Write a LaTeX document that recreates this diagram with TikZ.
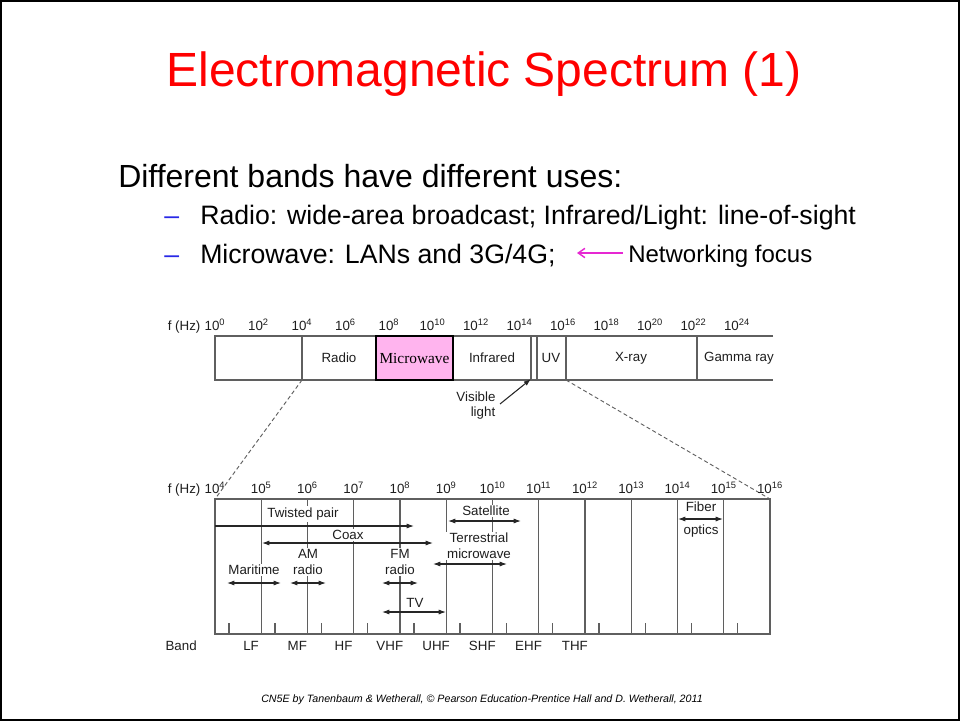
\documentclass[tikz,border=0pt]{standalone}
\usepackage{fontspec}
\setmainfont{Liberation Sans}
\newfontfamily\timesf{Liberation Serif}
\usetikzlibrary{arrows.meta}

\definecolor{titlered}{RGB}{255,0,0}
\definecolor{bulletblue}{RGB}{40,40,230}
\definecolor{focusmag}{RGB}{230,40,210}
\definecolor{mwpink}{RGB}{255,180,238}
\definecolor{linegray}{RGB}{95,95,95}
\definecolor{txtgray}{RGB}{30,30,30}

\begin{document}
\begin{tikzpicture}[x=0.75pt,y=-0.75pt,
  lbl/.style={font=\fontsize{10}{12}\selectfont, text=txtgray, inner sep=1pt},
  wl/.style={lbl, fill=white},
  exl/.style={lbl, anchor=base},
  gl/.style={draw=linegray, line width=0.95pt},
  rng/.style={draw=black!85, line width=0.8pt, {Latex[length=5.5pt,width=3.8pt]}-{Latex[length=5.5pt,width=3.8pt]}},
  rngr/.style={draw=black!85, line width=0.8pt, -{Latex[length=5.5pt,width=3.8pt]}},
  dsh/.style={draw=linegray, dash pattern=on 3pt off 2pt, line width=0.7pt},
  bul/.style={anchor=base west, font=\fontsize{20}{24}\selectfont},
]
\useasboundingbox (0,0) rectangle (960,721);
\draw[black, line width=0.9pt] (1,1) rectangle (959,720);

% ---------- text ----------
\node[anchor=base, font=\fontsize{36}{40}\selectfont, text=titlered, inner sep=0pt] (title) at (484,86) {Electromagnetic Spectrum (1)};
\node[anchor=base west, font=\fontsize{24}{28}\selectfont, inner sep=0pt] (intro) at (118,187) {Different bands have different uses:};
\node[bul, text=bulletblue, inner sep=0pt] (d1) at (164,224) {–};
\node[bul, inner sep=0pt] (b1) at (200,224) {Radio: wide-area broadcast; Infrared/Light: line-of-sight};
\node[bul, text=bulletblue, inner sep=0pt] (d2) at (164,263) {–};
\node[bul, inner sep=0pt] (b2) at (200,263) {Microwave: LANs and 3G/4G;};
\node[anchor=base west, font=\fontsize{18}{22}\selectfont, inner sep=0pt] (nf) at (628,262) {Networking focus};
\coordinate (nfA) at (623,253);
\coordinate (nfB) at (577,253);
\draw[focusmag, line width=1.1pt, -{Straight Barb[length=5pt,width=7pt]}] (nfA) -- (nfB);

\node[anchor=base, font=\itshape\fontsize{8}{10}\selectfont, inner sep=0pt] (foot) at (482,702) {CN5E by Tanenbaum \& Wetherall, © Pearson Education-Prentice Hall and D. Wetherall, 2011};

% ---------- top bar ----------
\node[lbl, anchor=base east] (fhz1) at (202,330) {f (Hz)};
\foreach \e in {0,2,...,24}
  \node[exl] (te\e) at ({215+21.75*\e},330) {10\textsuperscript{\e}};

\coordinate (tTL) at (215,336);
\coordinate (tBL) at (215,380);
\coordinate (tTR) at (773,336);
\coordinate (tBR) at (773,380);
\draw[gl] (tTR) -- (tTL) -- (tBL) -- (tBR);
\foreach \xx in {302,531,537,566,697}
  \draw[gl] (\xx,336) -- (\xx,380);
\coordinate (tb4) at (302,380);
\coordinate (tb16) at (566,380);
\draw[black, line width=0.95pt, fill=mwpink] (376,336) rectangle (453,380);
\node[lbl] (radio) at (339,358) {Radio};
\node[lbl, font=\timesf\fontsize{11.5}{13}\selectfont, text=black] (micro) at (414.5,358) {Microwave};
\node[lbl] (infra) at (492,358) {Infrared};
\node[lbl] (uv) at (551,358) {UV};
\node[lbl] (xray) at (631,358) {X-ray};
\node[lbl] (gamma) at (739,358) {Gamma ray};
\node[lbl] (vis) at (476,397) {Visible};
\node[lbl] (light) at (483,413) {light};
\coordinate (visA) at (500,404);
\coordinate (visB) at (531,379);
\draw[rngr] (visA) -- (visB);

% ---------- lower bar ----------
\coordinate (bTL) at (215,499);
\coordinate (bTR) at (770,499);
\coordinate (bBL) at (215,634);
\coordinate (bBR) at (770,634);
\draw[dsh] (tb4) -- (bTL);
\draw[dsh] (tb16) -- (bTR);
\node[lbl, anchor=base east] (fhz2) at (202,493) {f (Hz)};
\foreach \e in {4,...,16}
  \node[exl] (be\e) at ({215+46.25*(\e-4)},493) {10\textsuperscript{\e}};
\foreach \k in {1,...,11}
  \draw[gl] ({215+46.25*\k},499) -- ({215+46.25*\k},634);
\foreach \k in {0,...,11}
  \draw[gl] ({215+46.25*(\k+0.3)},623) -- ({215+46.25*(\k+0.3)},634);
\draw[gl] (bTL) rectangle (bBR);

\node[lbl, anchor=base west] (band) at (164,650) {Band};
\foreach \b [count=\i from 0] in {LF,MF,HF,VHF,UHF,SHF,EHF,THF}
  \node[exl] (band\b) at ({215+46.25*(\i+0.78)},650) {\b};

% labels (white background over grid lines)
\node[wl] (tp) at (303,514) {Twisted pair};
\node[wl] (coax) at (348,535) {Coax};
\node[wl, align=center] (am) at (308,562) {AM\\radio};
\node[wl] (mar) at (254,570) {Maritime};
\node[wl, align=center] (fm) at (400,562) {FM\\radio};
\node[wl] (tv) at (415,603) {TV};
\node[wl, align=center] (terr) at (479,546) {Terrestrial\\microwave};
\node[wl] (sat) at (486,511) {Satellite};
\node[wl] (fib) at (701,507) {Fiber};
\node[wl] (opt) at (701,531) {optics};

% ranges
\coordinate (tpA) at (215,526);  \coordinate (tpB) at (414,526);
\draw[rngr] (tpA) -- (tpB);
\coordinate (coA) at (262,543);  \coordinate (coB) at (433,543);
\draw[rng] (coA) -- (coB);
\coordinate (maA) at (227,583);  \coordinate (maB) at (281,583);
\draw[rng] (maA) -- (maB);
\coordinate (amA) at (290,583);  \coordinate (amB) at (326,583);
\draw[rng] (amA) -- (amB);
\coordinate (fmA) at (382,583);  \coordinate (fmB) at (418,583);
\draw[rng] (fmA) -- (fmB);
\coordinate (tvA) at (382,612);  \coordinate (tvB) at (446,612);
\draw[rng] (tvA) -- (tvB);
\coordinate (teA) at (433,564);  \coordinate (teB) at (507,564);
\draw[rng] (teA) -- (teB);
\coordinate (saA) at (448,521);  \coordinate (saB) at (521,521);
\draw[rng] (saA) -- (saB);
\coordinate (fiA) at (678,519);  \coordinate (fiB) at (723,519);
\draw[rng] (fiA) -- (fiB);
\end{tikzpicture}
\end{document}
